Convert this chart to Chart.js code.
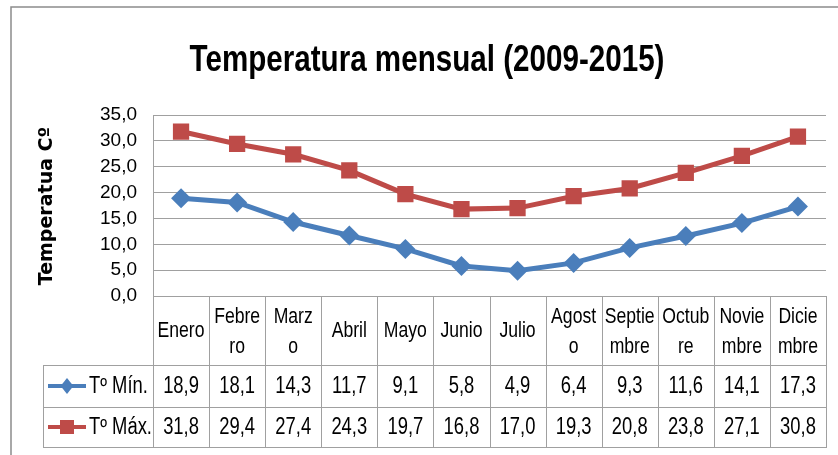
<!DOCTYPE html>
<html>
<head>
<meta charset="utf-8">
<script src="https://cdn.jsdelivr.net/npm/chart.js@4/dist/chart.umd.min.js"></script>
<style>
  body { margin: 0; background: #fff; }
  canvas { display: block; }
</style>
</head>
<body>
<canvas id="mainChart" width="838" height="455"></canvas>
<script>
// Temperatura mensual (2009-2015) - datos de la tabla
const meses = [
    ["Enero"], ["Febre", "ro"], ["Marz", "o"], ["Abril"], ["Mayo"], ["Junio"],
    ["Julio"], ["Agost", "o"], ["Septie", "mbre"], ["Octub", "re"], ["Novie", "mbre"], ["Dicie", "mbre"]
];
const tempMin = [18.9, 18.1, 14.3, 11.7, 9.1, 5.8, 4.9, 6.4, 9.3, 11.6, 14.1, 17.3];
const tempMax = [31.8, 29.4, 27.4, 24.3, 19.7, 16.8, 17.0, 19.3, 20.8, 23.8, 27.1, 30.8];
const yTicks = [0, 5, 10, 15, 20, 25, 30, 35];
const tituloGrafico = "Temperatura mensual (2009-2015)";
const tituloEjeY = "Temperatua Cº";

const AZUL = "#4a7ebb";
const ROJO = "#be4b48";
const GRIS = "#a0a0a0";
const FUENTE = "'Liberation Sans', Arial, sans-serif";
const ESTRECHO = 0.8; // la fuente original (Calibri) es mas estrecha

function coma(v) {
    return v.toFixed(1).replace(".", ",");
}

// texto comprimido horizontalmente
function texto(ctx, t, x, y) {
    ctx.save();
    ctx.translate(x, y);
    ctx.scale(ESTRECHO, 1);
    ctx.fillText(t, 0, 0);
    ctx.restore();
}

function marcador(ctx, tipo, x, y, r, color) {
    ctx.fillStyle = color;
    ctx.beginPath();
    if (tipo === "rombo") {
        ctx.moveTo(x, y - r);
        ctx.lineTo(x + r * 0.8, y);
        ctx.lineTo(x, y + r);
        ctx.lineTo(x - r * 0.8, y);
        ctx.closePath();
    } else {
        ctx.rect(x - r, y - r, 2 * r, 2 * r);
    }
    ctx.fill();
}

// Plugin: titulo, eje Y, marco y tabla de datos
const tablaPlugin = {
    id: "tablaDatos",
    afterDraw(chart) {
        const ctx = chart.ctx;
        const area = chart.chartArea;
        const xs = chart.scales.x;
        const n = meses.length;
        const cw = (area.right - area.left) / n;
        const yHead = area.bottom;
        const yRow1 = 365, yRow2 = 407, yEnd = 447;
        const tablaIzq = 43;

        ctx.save();
        // marco exterior
        ctx.strokeStyle = "#8c8c8c";
        ctx.lineWidth = 1.5;
        ctx.beginPath();
        ctx.moveTo(11, 455);
        ctx.lineTo(11, 7);
        ctx.lineTo(838, 7);
        ctx.stroke();

        // titulo
        ctx.fillStyle = "#000";
        ctx.font = "bold 37px " + FUENTE;
        ctx.textAlign = "center";
        ctx.textBaseline = "alphabetic";
        texto(ctx, tituloGrafico, 427, 71);

        // titulo eje Y
        ctx.save();
        ctx.translate(47, 206);
        ctx.rotate(-Math.PI / 2);
        ctx.font = "bold 19px 'DejaVu Sans', Verdana, sans-serif";
        ctx.textBaseline = "middle";
        ctx.fillText(tituloEjeY, 0, 0);
        ctx.restore();

        // lineas de la tabla
        ctx.strokeStyle = GRIS;
        ctx.lineWidth = 1;
        ctx.beginPath();
        for (let i = 0; i <= n; i++) {
            const x = Math.round(area.left + i * cw) + 0.5;
            ctx.moveTo(x, yHead);
            ctx.lineTo(x, yEnd);
        }
        ctx.moveTo(tablaIzq + 0.5, yRow1);
        ctx.lineTo(tablaIzq + 0.5, yEnd);
        [yRow1, yRow2, yEnd].forEach(function (y) {
            ctx.moveTo(tablaIzq, y + 0.5);
            ctx.lineTo(area.right + 1, y + 0.5);
        });
        ctx.stroke();

        // encabezados de meses
        ctx.fillStyle = "#000";
        ctx.font = "22px " + FUENTE;
        ctx.textAlign = "center";
        ctx.textBaseline = "middle";
        const cHead = (yHead + yRow1) / 2;
        meses.forEach(function (lineas, i) {
            const x = xs.getPixelForValue(i);
            if (lineas.length === 1) {
                texto(ctx, lineas[0], x, cHead);
            } else {
                texto(ctx, lineas[0], x, cHead - 14);
                texto(ctx, lineas[1], x, cHead + 16);
            }
        });

        // valores
        const filas = [
            { datos: tempMin, y: (yRow1 + yRow2) / 2 },
            { datos: tempMax, y: (yRow2 + yEnd) / 2 }
        ];
        ctx.font = "23px " + FUENTE;
        filas.forEach(function (f) {
            f.datos.forEach(function (v, i) {
                texto(ctx, coma(v), xs.getPixelForValue(i), f.y + 1);
            });
        });

        // leyenda en la tabla
        chart.data.datasets.forEach(function (ds, k) {
            const y = filas[k].y;
            ctx.strokeStyle = ds.borderColor;
            ctx.lineWidth = 4;
            ctx.beginPath();
            ctx.moveTo(48, y);
            ctx.lineTo(86, y);
            ctx.stroke();
            marcador(ctx, k === 0 ? "rombo" : "cuadro", 67, y, k === 0 ? 8 : 7, ds.borderColor);
            ctx.fillStyle = "#000";
            ctx.textAlign = "left";
            ctx.font = "23px " + FUENTE;
            texto(ctx, ds.label, 89, y + 1);
        });
        ctx.restore();
    }
};

const ctx = document.getElementById("mainChart").getContext("2d");
new Chart(ctx, {
    type: "line",
    data: {
        labels: meses,
        datasets: [
            {
                label: "Tº Mín.",
                data: tempMin,
                borderColor: AZUL,
                backgroundColor: AZUL,
                borderWidth: 5,
                pointStyle: "rectRot",
                pointRadius: 10,
                pointBorderWidth: 0,
                tension: 0
            },
            {
                label: "Tº Máx.",
                data: tempMax,
                borderColor: ROJO,
                backgroundColor: ROJO,
                borderWidth: 5,
                pointStyle: "rect",
                pointRadius: 11.5,
                pointBorderWidth: 0,
                tension: 0
            }
        ]
    },
    options: {
        responsive: false,
        animation: false,
        layout: { padding: { left: 0, top: 115, right: 12, bottom: 159 } },
        plugins: {
            legend: { display: false },
            title: { display: false },
            tooltip: { enabled: false }
        },
        scales: {
            x: {
                display: false,
                offset: true
            },
            y: {
                min: yTicks[0],
                max: yTicks[yTicks.length - 1],
                afterBuildTicks(scale) {
                    scale.ticks = yTicks.map(function (v) { return { value: v }; });
                },
                afterFit(scale) {
                    scale.width = 153;
                },
                grid: {
                    color: GRIS,
                    lineWidth: 1,
                    drawTicks: false
                },
                border: { display: true, color: GRIS, width: 1 },
                ticks: {
                    padding: 16,
                    color: "#000",
                    font: { family: FUENTE, size: 19 },
                    callback: function (v) { return coma(v); }
                }
            }
        }
    },
    plugins: [tablaPlugin]
});
</script>
</body>
</html>
